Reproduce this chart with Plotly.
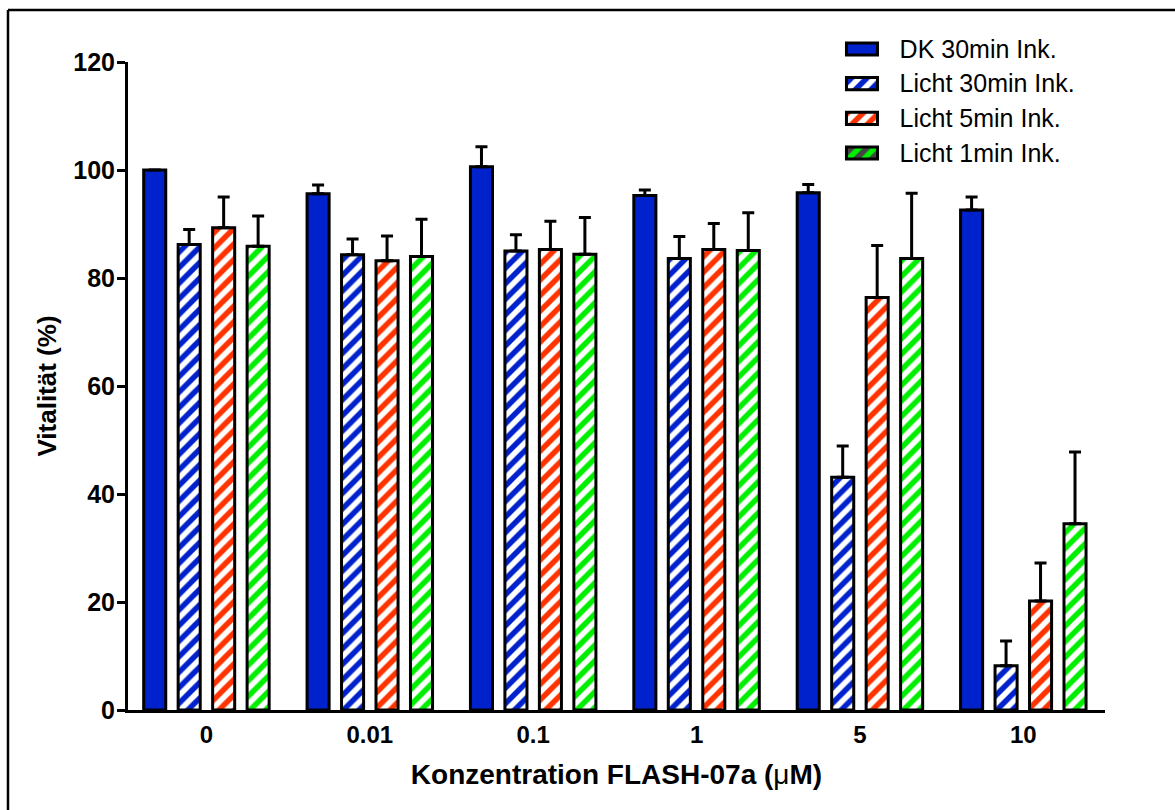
import plotly.graph_objects as go

# Concentrations of FLASH-07a (µM) on the category axis
concentrations = ["0", "0.01", "0.1", "1", "5", "10"]

# Mean viability (%) and standard deviation per condition
dk_30_mean = [100.0, 95.6, 100.6, 95.3, 95.8, 92.6]
dk_30_sd = [0.0, 1.6, 3.7, 1.0, 1.5, 2.4]

licht_30_mean = [86.2, 84.3, 85.0, 83.6, 43.1, 8.2]
licht_30_sd = [2.8, 2.9, 3.0, 4.1, 5.8, 4.6]

licht_5_mean = [89.3, 83.2, 85.3, 85.3, 76.4, 20.2]
licht_5_sd = [5.7, 4.6, 5.2, 4.8, 9.6, 7.0]

licht_1_mean = [85.9, 84.0, 84.4, 85.1, 83.6, 34.5]
licht_1_sd = [5.6, 6.9, 6.8, 7.0, 12.1, 13.3]

y_ticks = [0, 20, 40, 60, 80, 100, 120]

series_names = ["DK 30min Ink.", "Licht 30min Ink.", "Licht 5min Ink.", "Licht 1min Ink."]
series_colors = ["#0022CC", "#0022CC", "#FF3300", "#00EE00"]
series_hatch = ["", "/", "/", "/"]
series_means = [dk_30_mean, licht_30_mean, licht_5_mean, licht_1_mean]
series_sds = [dk_30_sd, licht_30_sd, licht_5_sd, licht_1_sd]

FONT = "Liberation Sans, Arial, sans-serif"
OUTLINE = dict(color="black", width=3)


def hatch(shape, color):
    return dict(shape=shape, fgcolor="white", bgcolor=color,
                fgopacity=1, size=11, solidity=0.5)


fig = go.Figure()
for name, mean, sd, color, shape in zip(series_names, series_means, series_sds,
                                        series_colors, series_hatch):
    fig.add_trace(go.Bar(
        name=name,
        x=concentrations,
        y=mean,
        marker=dict(color=color, line=OUTLINE, pattern=hatch(shape, color)),
        error_y=dict(
            type="data", array=sd, arrayminus=[0] * len(sd), symmetric=False,
            color="black", thickness=3, width=6,
        ),
        showlegend=False,
        xaxis="x", yaxis="y",
    ))

# Legend keys: one wide swatch per series on a small helper subplot,
# with the series names as its right-hand tick labels
fig.add_trace(go.Bar(
    orientation="h",
    y=series_names,
    x=[1] * len(series_names),
    width=0.35,
    marker=dict(
        color=series_colors,
        line=OUTLINE,
        pattern=dict(shape=series_hatch, fgcolor="white", bgcolor=series_colors,
                     fgopacity=1, size=11, solidity=0.5),
    ),
    showlegend=False,
    hoverinfo="skip",
    xaxis="x2", yaxis="y2",
))

fig.update_layout(
    width=1175,
    height=810,
    margin=dict(l=128, r=70, t=20, b=100),
    paper_bgcolor="white",
    plot_bgcolor="rgba(0,0,0,0)",
    barmode="group",
    bargap=0.156,
    bargroupgap=0.36,
    font=dict(family=FONT, color="black"),
    showlegend=False,
    xaxis=dict(
        type="category",
        range=[-0.48, 5.5],
        domain=[0, 1],
        automargin=False,
        showline=True, linecolor="black", linewidth=3,
        ticks="", showgrid=False, zeroline=False,
        tickfont=dict(family=FONT, size=24, weight="bold"),
        ticklabelstandoff=1,
        title=dict(
            text="<b>Konzentration FLASH-07a (</b>μ<b>M)</b>",
            font=dict(family=FONT, size=28),
            standoff=18,
        ),
    ),
    yaxis=dict(
        range=[0, 120],
        domain=[0, 648 / 690],
        automargin=False,
        tickvals=y_ticks,
        showline=True, linecolor="black", linewidth=3,
        ticks="outside", ticklen=8, tickwidth=3, tickcolor="black",
        showgrid=False, zeroline=False,
        tickfont=dict(family=FONT, size=25, weight="bold"),
        ticklabelstandoff=-3,
        title=dict(
            text="Vitalität (%)",
            font=dict(family=FONT, size=26, weight="bold"),
            standoff=10,
        ),
    ),
    xaxis2=dict(
        domain=[0.7322, 0.7703],
        range=[-0.1, 1.1],
        anchor="y2",
        visible=False,
        automargin=False,
        fixedrange=True,
    ),
    yaxis2=dict(
        domain=[0.78203, 0.98319],
        range=[3.5, -0.5],
        type="category",
        anchor="x2",
        side="right",
        automargin=False,
        showline=False, showgrid=False, zeroline=False, ticks="",
        tickfont=dict(family=FONT, size=25, color="black"),
        ticklabelstandoff=18,
        fixedrange=True,
    ),
)

# Outer frame edges along the top and left of the figure
fig.add_shape(type="line", xref="paper", yref="paper",
              x0=-0.12283, x1=1.08, y0=1.01449, y1=1.01449,
              line=dict(color="black", width=2.5))
fig.add_shape(type="line", xref="paper", yref="paper",
              x0=-0.12283, x1=-0.12283, y0=1.01449, y1=-0.2,
              line=dict(color="black", width=2.5))

fig.write_html("out.html")
